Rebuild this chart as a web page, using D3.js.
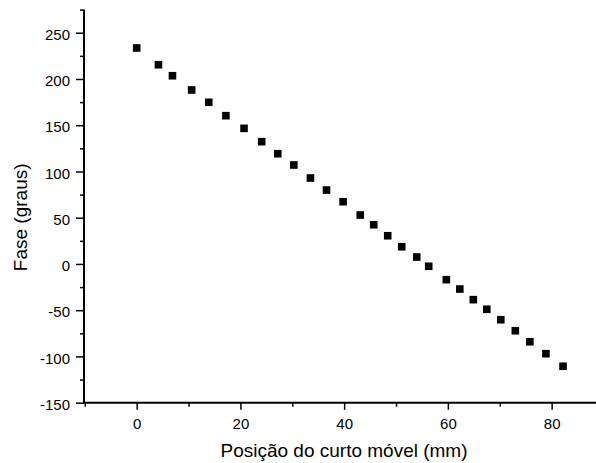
<!DOCTYPE html>
<html>
<head>
<meta charset="utf-8">
<script src="https://cdn.jsdelivr.net/npm/d3@7"></script>
<style>
  html, body { margin: 0; padding: 0; background: #fff; }
  svg { display: block; }
  text { font-family: "Liberation Sans", Arial, Helvetica, sans-serif; fill: #000; }
</style>
</head>
<body>
<svg id="chart" width="596" height="463"></svg>
<script>
// Posição do curto móvel (mm)
const positions = [0, 4.2, 6.9, 10.6, 13.9, 17.2, 20.7, 24.1, 27.2, 30.3, 33.5, 36.6, 39.8, 43.1,
  45.7, 48.4, 51.1, 54.0, 56.3, 59.7, 62.3, 64.9, 67.5, 70.2, 73.0, 75.8, 78.9, 82.2];
// Fase (graus)
const phases = [233.5, 215.4, 203.5, 188.1, 174.8, 160.3, 146.6, 132.2, 119.2, 107.0, 92.9, 79.9, 67.3, 52.9,
  42.4, 30.5, 18.6, 7.5, -2.5, -17.0, -27.1, -38.6, -49.0, -60.3, -72.2, -84.1, -97.0, -110.6];

const xMajorTicks = [0, 20, 40, 60, 80];
const xMinorTicks = [-10, 10, 30, 50, 70, 90];
const yMajorTicks = [-150, -100, -50, 0, 50, 100, 150, 200, 250];
const yMinorTicks = [-125, -75, -25, 25, 75, 125, 175, 225, 275];

const xTitle = "Posição do curto móvel (mm)";
const yTitle = "Fase (graus)";

const svg = d3.select("#chart");

const x = d3.scaleLinear().domain([-10, 90]).range([84.8, 603.5]);
const y = d3.scaleLinear().domain([-150, 275]).range([402.7, 9.6]);

const axisY0 = 402.7;
const axisX0 = 84;

// minor ticks (no labels)
svg.append("g")
  .attr("transform", `translate(0,${axisY0})`)
  .call(d3.axisBottom(x).tickValues(xMinorTicks).tickSize(4).tickSizeOuter(0).tickFormat(""))
  .call(g => g.select(".domain").remove())
  .call(g => g.selectAll("line").attr("stroke", "#000").attr("stroke-width", 1.5));

svg.append("g")
  .attr("transform", `translate(${axisX0},0)`)
  .call(d3.axisLeft(y).tickValues(yMinorTicks).tickSize(4).tickSizeOuter(0).tickFormat(""))
  .call(g => g.select(".domain").remove())
  .call(g => g.selectAll("line").attr("stroke", "#000").attr("stroke-width", 1.5));

// major ticks with labels
const gx = svg.append("g")
  .attr("transform", `translate(0,${axisY0})`)
  .call(d3.axisBottom(x).tickValues(xMajorTicks).tickSize(7).tickSizeOuter(0).tickPadding(8.3).tickFormat(d3.format("d")));
gx.select(".domain").remove();
gx.selectAll("line").attr("stroke", "#000").attr("stroke-width", 1.5);
gx.selectAll("text").attr("font-size", "15px").attr("font-family", null).attr("fill", "#000");

const gy = svg.append("g")
  .attr("transform", `translate(${axisX0},0)`)
  .call(d3.axisLeft(y).tickValues(yMajorTicks).tickSize(8).tickSizeOuter(0).tickPadding(6).tickFormat(d3.format("d")));
gy.select(".domain").remove();
gy.selectAll("line").attr("stroke", "#000").attr("stroke-width", 1.5);
gy.selectAll("text").attr("font-size", "15px").attr("font-family", null).attr("fill", "#000")
  .attr("dy", "0.45em").text(d => String(d).replace("\u2212", "-"));

// axis lines
svg.append("line")
  .attr("x1", axisX0).attr("x2", axisX0)
  .attr("y1", y(275)).attr("y2", axisY0 + 1)
  .attr("stroke", "#000").attr("stroke-width", 2);
svg.append("line")
  .attr("x1", axisX0 - 1).attr("x2", 596)
  .attr("y1", axisY0).attr("y2", axisY0)
  .attr("stroke", "#000").attr("stroke-width", 2);

// data markers
const s = 7.6;
svg.append("g")
  .selectAll("rect")
  .data(positions.map((p, i) => ({ p, v: phases[i] })))
  .join("rect")
  .attr("x", d => x(d.p) - s / 2)
  .attr("y", d => y(d.v) - s / 2)
  .attr("width", s)
  .attr("height", s)
  .attr("fill", "#000");

// axis titles
svg.append("text")
  .attr("x", 344).attr("y", 456.7)
  .attr("text-anchor", "middle")
  .attr("font-size", "19px")
  .text(xTitle);

svg.append("text")
  .attr("transform", "translate(26.7,217.3) rotate(-90)")
  .attr("text-anchor", "middle")
  .attr("font-size", "19px")
  .text(yTitle);
</script>
</body>
</html>
